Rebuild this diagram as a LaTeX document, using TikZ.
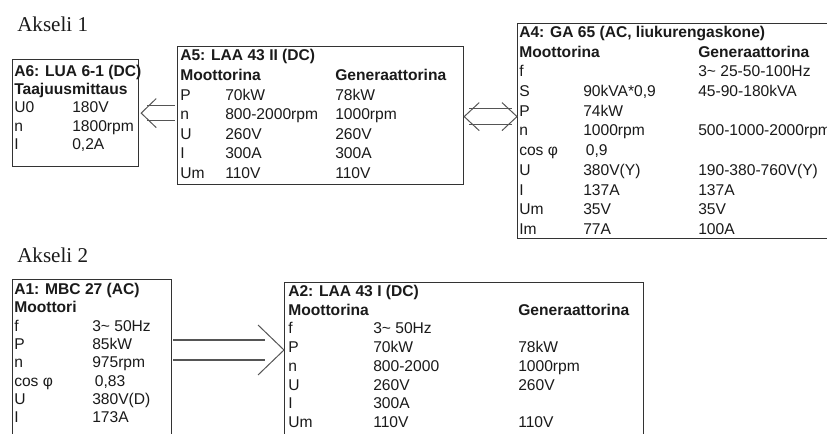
\documentclass[tikz,border=0pt]{standalone}
\usepackage{fontspec}
\setmainfont{Liberation Sans}
\newfontfamily\akfont{Liberation Serif}
\usetikzlibrary{calc}
\definecolor{ink}{HTML}{1A1A1A}
\definecolor{edge}{HTML}{333333}
\definecolor{arrc}{HTML}{555555}
\begin{document}
\begin{tikzpicture}[x=0.75pt,y=-0.75pt,
  t/.style={anchor=base west,inner sep=0pt,font=\fontsize{11.7}{14}\selectfont,text=ink},
  tb/.style={t,font=\fontsize{11.7}{14}\selectfont\bfseries},
  hd/.style={anchor=base west,inner sep=0pt,font=\akfont\fontsize{15.8}{18}\selectfont,text=ink},
  boxn/.style={draw=edge,line width=0.9pt,anchor=north west,inner sep=0pt},
  arr/.style={draw=arrc,line width=0.75pt},
  arrw/.style={draw=arrc,line width=1.3pt}]
\fill[white] (0,0) rectangle (827,434);
\path[use as bounding box,clip] (0,0) rectangle (827,434);

% headings
\node[hd] (ak1) at (17,32) {Akseli 1};
\node[hd] (ak2) at (17,263) {Akseli 2};

% ---------- A6 ----------
\node[boxn,minimum width=94.5pt,minimum height=80.25pt] (a6) at (12,59) {};
\node[tb] (a6t) at (14,76.5) {A6: LUA 6-1 (DC)};
\node[tb] (a6s) at (14,94.7) {Taajuusmittaus};
\foreach \l/\v [count=\i from 0] in {U0/180V, n/1800rpm, I/{0,2A}} {
  \node[t] (a6l\i) at (14,{112.9+18.2*\i}) {\l};
  \node[t] (a6v\i) at (72,{112.9+18.2*\i}) {\v};
}

% ---------- A5 ----------
\node[boxn,minimum width=214.5pt,minimum height=103.5pt] (a5) at (177,46) {};
\node[tb] (a5t) at (180,61) {A5: LAA 43 II (DC)};
\node[tb] (a5m) at (180,80.6) {Moottorina};
\node[tb] (a5g) at (335,80.6) {Generaattorina};
\foreach \l/\v/\g [count=\i from 0] in {P/70kW/78kW, n/800-2000rpm/1000rpm, U/260V/260V, I/300A/300A, Um/110V/110V} {
  \node[t] (a5l\i) at (180,{100.2+19.6*\i}) {\l};
  \node[t] (a5v\i) at (225,{100.2+19.6*\i}) {\v};
  \node[t] (a5g\i) at (335,{100.2+19.6*\i}) {\g};
}

% ---------- A4 ----------
\node[boxn,minimum width=262.5pt,minimum height=161.25pt] (a4) at (517,23) {};
\node[tb] (a4t) at (519,37.5) {A4: GA 65 (AC, liukurengaskone)};
\node[tb] (a4m) at (519,57.2) {Moottorina};
\node[tb] (a4g) at (698,57.2) {Generaattorina};
\foreach \l/\v/\g [count=\i from 0] in {f//3\textasciitilde{} 25-50-100Hz, S/{90kVA*0,9}/45-90-180kVA, P/74kW/, n/1000rpm/500-1000-2000rpm, cos φ/{\,0,9}/, U/380V(Y)/190-380-760V(Y), I/137A/137A, Um/35V/35V, Im/77A/100A} {
  \node[t] (a4l\i) at (519,{76.9+19.7*\i}) {\l};
  \node[t] (a4v\i) at (583,{76.9+19.7*\i}) {\v};
  \node[t] (a4g\i) at (698,{76.9+19.7*\i}) {\g};
}

% ---------- A1 ----------
\node[boxn,minimum width=119.25pt,minimum height=135.75pt] (a1) at (12,279) {};
\node[tb] (a1t) at (14,294.5) {A1: MBC 27 (AC)};
\node[tb] (a1m) at (14,312.8) {Moottori};
\foreach \l/\v [count=\i from 0] in {f/3\textasciitilde{} 50Hz, P/85kW, n/975rpm, cos φ/{\,0,83}, U/380V(D), I/173A} {
  \node[t] (a1l\i) at (14,{331.1+18.3*\i}) {\l};
  \node[t] (a1v\i) at (92,{331.1+18.3*\i}) {\v};
}

% ---------- A2 ----------
\node[boxn,minimum width=269.25pt,minimum height=133.5pt] (a2) at (284,282) {};
\node[tb] (a2t) at (288,296.5) {A2: LAA 43 I (DC)};
\node[tb] (a2m) at (288,315.2) {Moottorina};
\node[tb] (a2g) at (518,315.2) {Generaattorina};
\foreach \l/\v/\g [count=\i from 0] in {f/3\textasciitilde{} 50Hz/, P/70kW/78kW, n/800-2000/1000rpm, U/260V/260V, I/300A/, Um/110V/110V} {
  \node[t] (a2l\i) at (288,{333.9+18.7*\i}) {\l};
  \node[t] (a2v\i) at (373,{333.9+18.7*\i}) {\v};
  \node[t] (a2g\i) at (518,{333.9+18.7*\i}) {\g};
}

% ---------- connectors ----------
% A5 => A6
\coordinate (t1) at ($(a6.east)+(2,0)$);
\coordinate (t1b) at (a5.west |- t1);
\draw[arr] ($(t1)+(15,-14.5)$) -- (t1) -- ($(t1)+(15,14.5)$);
\draw[arr] ($(t1)+(6,-7.5)$) -- ($(t1b)+(-2,-7.5)$);
\draw[arr] ($(t1)+(6,7.5)$) -- ($(t1b)+(-2,7.5)$);

% A5 <=> A4
\coordinate (t2) at ($(a5.east)+(0,1)$);
\coordinate (t3) at (a4.west |- t2);
\draw[arr] ($(t2)+(15,-14)$) -- (t2) -- ($(t2)+(15,14)$);
\draw[arr] ($(t3)+(-15,-14)$) -- (t3) -- ($(t3)+(-15,14)$);
\draw[arr] ($(t2)+(5,-8)$) -- ($(t3)+(-5,-8)$);
\draw[arr] ($(t2)+(5,8)$) -- ($(t3)+(-5,8)$);

% A1 => A2
\coordinate (t4) at ($(a2.north west)+(0,68)$);
\coordinate (t4b) at (a1.east |- t4);
\draw[arr] ($(t4)+(-26,-25)$) -- (t4) -- ($(t4)+(-26,25)$);
\draw[arrw] ($(t4b)+(1,-10)$) -- ($(t4)+(-19,-10)$);
\draw[arrw] ($(t4b)+(1,10)$) -- ($(t4)+(-19,10)$);
\end{tikzpicture}
\end{document}
